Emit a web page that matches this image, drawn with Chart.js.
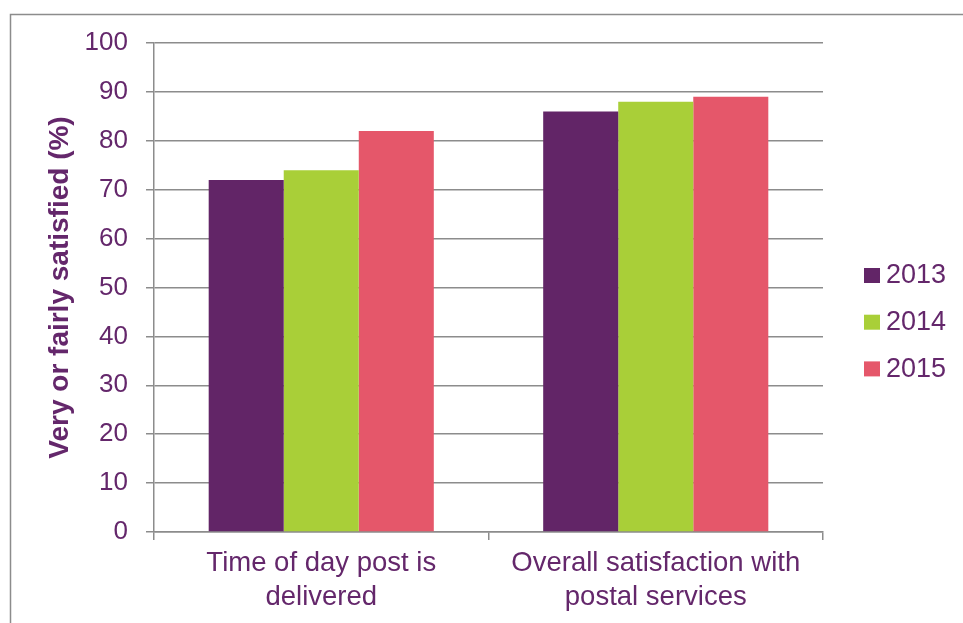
<!DOCTYPE html>
<html>
<head>
<meta charset="utf-8">
<script src="https://cdn.jsdelivr.net/npm/chart.js@4"></script>
<style>
  html, body { margin: 0; padding: 0; background: #ffffff; }
  #wrap { width: 963px; height: 623px; position: relative; }
</style>
</head>
<body>
<div id="wrap"><canvas id="c" width="963" height="623"></canvas></div>
<script>
const categories = [
  ['Time of day post is', 'delivered'],
  ['Overall satisfaction with', 'postal services']
];
const seriesNames = ['2013', '2014', '2015'];
const values2013 = [72, 86];
const values2014 = [74, 88];
const values2015 = [82, 89];
const yTicks = [0, 10, 20, 30, 40, 50, 60, 70, 80, 90, 100];
const yTitle = 'Very or fairly satisfied (%)';

const purple = '#622567';
const green = '#A9CF38';
const pink = '#E5576A';
const textColor = '#64276B';
const gridColor = '#8C8C8C';
const FONT = "'Liberation Sans', Arial, sans-serif";

const framePlugin = {
  id: 'frame',
  beforeDraw(chart) {
    const ctx = chart.ctx;
    ctx.save();
    ctx.strokeStyle = '#8C8C8C';
    ctx.lineWidth = 1.5;
    ctx.beginPath();
    ctx.moveTo(10.5, 623);
    ctx.lineTo(10.5, 14.5);
    ctx.lineTo(963, 14.5);
    ctx.stroke();
    ctx.restore();
  }
};

const legendPlugin = {
  id: 'customLegend',
  afterDraw(chart) {
    const ctx = chart.ctx;
    const area = chart.chartArea;
    ctx.save();
    ctx.font = '27px ' + FONT;
    ctx.textBaseline = 'middle';
    ctx.textAlign = 'left';
    chart.data.datasets.forEach((ds, i) => {
      const cy = 275 + i * 46.7;
      const bx = area.right + 41;
      ctx.fillStyle = ds.backgroundColor;
      ctx.fillRect(bx, cy - 7, 16, 15);
      ctx.fillStyle = textColor;
      ctx.fillText(ds.label, bx + 22, cy + 1);
    });
    ctx.restore();
  }
};

new Chart(document.getElementById('c'), {
  type: 'bar',
  data: {
    labels: categories,
    datasets: [
      { label: seriesNames[0], data: values2013, backgroundColor: purple },
      { label: seriesNames[1], data: values2014, backgroundColor: green },
      { label: seriesNames[2], data: values2015, backgroundColor: pink }
    ]
  },
  options: {
    responsive: false,
    animation: false,
    devicePixelRatio: 1,
    layout: { padding: { top: 43, right: 140, left: 0, bottom: 0 } },
    datasets: { bar: { categoryPercentage: 0.673, barPercentage: 1 } },
    plugins: {
      legend: { display: false },
      tooltip: { enabled: false }
    },
    scales: {
      x: {
        afterFit(scale) { scale.height = 91; },
        grid: {
          drawOnChartArea: false,
          drawTicks: true,
          tickLength: 8,
          color: gridColor,
          lineWidth: 1.5,
          offset: true
        },
        border: { color: gridColor, width: 1.5 },
        ticks: {
          color: textColor,
          font: { family: FONT, size: 27.5, lineHeight: 1.22 },
          padding: 7,
          maxRotation: 0,
          autoSkip: false
        }
      },
      y: {
        min: 0,
        max: 100,
        afterFit(scale) { scale.width = 154; },
        afterBuildTicks(scale) { scale.ticks = yTicks.map(v => ({ value: v })); },
        grid: {
          color: gridColor,
          lineWidth: 1.5,
          tickLength: 8,
          drawTicks: true
        },
        border: { color: gridColor, width: 1.5 },
        ticks: {
          color: textColor,
          font: { family: FONT, size: 26 },
          padding: 18
        },
        title: {
          display: true,
          text: yTitle,
          color: textColor,
          font: { family: FONT, size: 28, weight: 'bold' },
          padding: { top: 43, bottom: 0 }
        }
      }
    }
  },
  plugins: [framePlugin, legendPlugin]
});
</script>
</body>
</html>
